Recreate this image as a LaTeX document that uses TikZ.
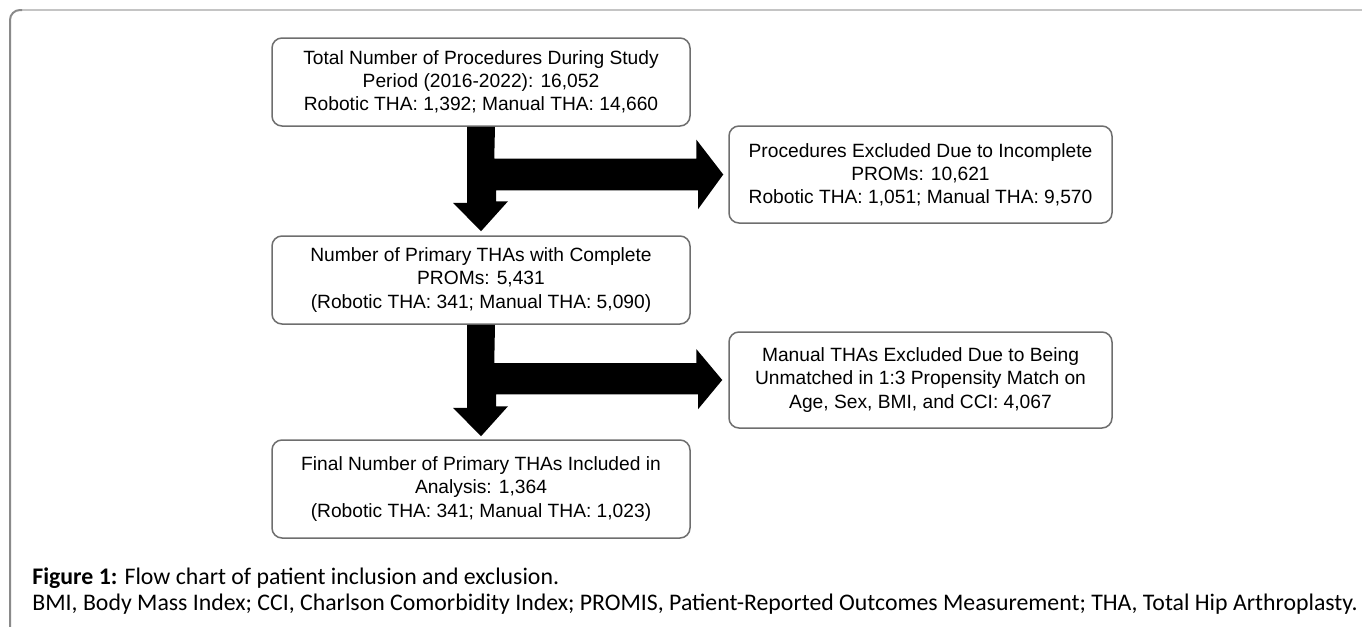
\documentclass[tikz,border=0pt]{standalone}
\usepackage{fontspec}
\setmainfont{Liberation Sans}
\newfontfamily\capfont{Carlito}
\usetikzlibrary{calc}
\definecolor{boxline}{HTML}{6E6E6E}
\definecolor{frametop}{HTML}{C4C4C4}
\definecolor{frameleft}{HTML}{8A8A8A}
\begin{document}
\begin{tikzpicture}[x=0.5pt,y=-0.5pt,
  flowbox/.style={draw=boxline, line width=0.75pt, rounded corners=5pt,
    align=center, inner sep=0pt, font=\fontsize{9.6}{11.6}\selectfont},
  widebox/.style={flowbox, minimum width=209pt},
  sidebox/.style={flowbox, minimum width=191.5pt},
  caption/.style={anchor=base west, inner sep=0pt, font=\capfont\fontsize{11.9}{13}\selectfont}
]
\useasboundingbox (0,0) rectangle (1362,627);

% page frame: light top rule, darker left rule, rounded corner
\draw[frametop, line width=1pt] (20,10) -- (1362,10);
\draw[frameleft, line width=1pt, rounded corners=5pt] (10,627) -- (10,10) -- (22,10);

% flow boxes
\node[widebox, minimum height=44pt] (b1) at (481,82)
  {Total Number of Procedures During Study\\Period (2016-2022): 16,052\\Robotic THA: 1,392; Manual THA: 14,660};
\node[sidebox, minimum height=48.5pt] (b2) at (920.5,174.5)
  {Procedures Excluded Due to Incomplete\\PROMs: 10,621\\Robotic THA: 1,051; Manual THA: 9,570};
\node[widebox, minimum height=44pt] (b3) at (481,280)
  {Number of Primary THAs with Complete\\PROMs: 5,431\\(Robotic THA: 341; Manual THA: 5,090)};
\node[sidebox, minimum height=48pt] (b4) at (920.5,380)
  {Manual THAs Excluded Due to Being\\Unmatched in 1:3 Propensity Match on\\Age, Sex, BMI, and CCI: 4,067};
\node[widebox, minimum height=49pt] (b5) at (481,489)
  {Final Number of Primary THAs Included in\\Analysis: 1,364\\(Robotic THA: 341; Manual THA: 1,023)};

% arrow tips just short of the target boxes
\coordinate (t1) at ([yshift=2pt]b3.north);
\coordinate (t2) at ([xshift=-2.5pt]b2.west);
\coordinate (t3) at ([yshift=1.5pt]b5.north);
\coordinate (t4) at ([xshift=-3pt]b4.west);

% first split: down to the cohort, right to the exclusions
\fill[black] ([xshift=-7pt]b1.south) -- ++(0,76) -- ++(-14,0) -- (t1)
  -- ++(27,-30) -- ++(-12,0) -- ++(0,-11) -- ++(202,0) -- ++(0,19)
  -- (t2) -- ++(-27,-35) -- ++(0,19) -- ++(-202,0) -- ([xshift=7pt]b1.south) -- cycle;

% second split
\fill[black] ([xshift=-7pt]b3.south) -- ++(0,83) -- ++(-14,0) -- (t3)
  -- ++(27,-30) -- ++(-12,0) -- ++(0,-12) -- ++(202,0) -- ++(0,15)
  -- (t4) -- ++(-26,-31) -- ++(0,14) -- ++(-202,0) -- ([xshift=7pt]b3.south) -- cycle;

% caption
\node[caption] (cap1) at (32,584) {\textbf{Figure 1:} Flow chart of patient inclusion and exclusion.};
\node[caption] (cap2) at (32,610) {BMI, Body Mass Index; CCI, Charlson Comorbidity Index; PROMIS, Patient-Reported Outcomes Measurement; THA, Total Hip Arthroplasty.};
\end{tikzpicture}
\end{document}
